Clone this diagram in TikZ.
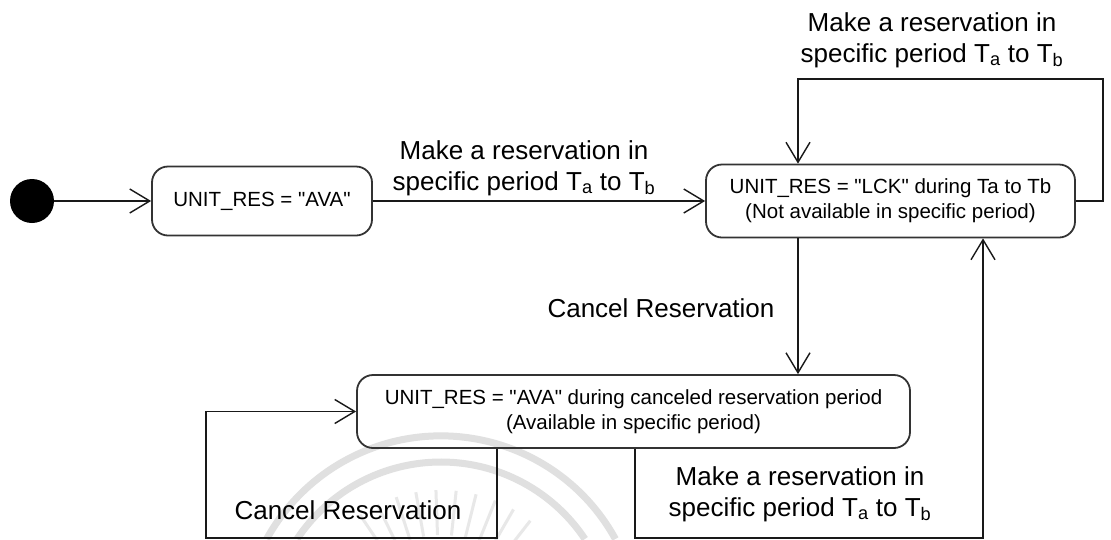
\documentclass[tikz,border=0pt]{standalone}
\usepackage{fontspec}
\setmainfont{Liberation Sans}
\usetikzlibrary{arrows.meta}
\newcommand{\qq}{\textquotedbl}
\begin{document}
\begin{tikzpicture}[x=1pt,y=-1pt,
  state/.style={draw=black!80, line width=1.8pt, rounded corners=16pt, align=center,
    font=\fontsize{20.5}{25}\selectfont, inner sep=0pt},
  trans/.style={draw=black!90, line width=1.4pt,
    -{Straight Barb[length=20pt,width=24pt,line width=1.4pt]}},
  lbl/.style={align=center, font=\fontsize{26}{31}\selectfont, inner sep=0pt},
  sealarc/.style={draw=black!12, line width=7pt}]
\useasboundingbox (0,0) rectangle (1111,539);
\fill[white] (0,0) rectangle (1111,539);

% faint seal in the lower part
\draw[sealarc] (615.4,539) arc[start angle=28.8, end angle=151.2, radius=199pt];
\draw[sealarc] (584.9,539) arc[start angle=33.7, end angle=146.3, radius=173pt];
\foreach \a in {52,60,...,128}
  \draw[draw=black!9, line width=3pt] (441,635) ++(\a:100pt) -- ++(\a:45pt);

% states
\node[circle, fill=black, minimum size=44pt, inner sep=0pt] (init) at (32,201) {};
\node[state, minimum width=220pt, minimum height=69pt] (ava) at (262,201) {UNIT\_RES = \qq AVA\qq};
\node[state, minimum width=369pt, minimum height=73pt] (lck) at (890.5,201)
  {UNIT\_RES = \qq LCK\qq{} during Ta to Tb\\(Not available in specific period)};
\node[state, minimum width=553pt, minimum height=73pt] (ava2) at (633.5,411.5)
  {UNIT\_RES = \qq AVA\qq{} during canceled reservation period\\(Available in specific period)};

% routing points
\coordinate (xa) at (798,79);
\coordinate (loopR) at (1103,79);
\coordinate (bend) at (983,538);
\coordinate (dl) at (497,538);
\coordinate (dr) at (635,538);
\coordinate (farL) at (206,538);

% transitions
\draw[trans] (init) -- (ava);
\draw[trans] (ava) -- (lck);
\draw[trans] (lck.east) -| (loopR) -| (lck.north -| xa);
\draw[trans] (lck.south -| xa) -- (ava2.north -| xa);
\draw[trans] (ava2.south -| dr) -- (dr) -- (bend) -- (lck.south -| bend);
\draw[trans] (ava2.south -| dl) -- (dl) -- (farL) |- (ava2.west);

% transition labels
\node[lbl] (l1) at (524,168) {Make a reservation in\\specific period T\textsubscript{a} to T\textsubscript{b}};
\node[lbl] (l2) at (932,40) {Make a reservation in\\specific period T\textsubscript{a} to T\textsubscript{b}};
\node[lbl] (l3) at (661,308) {Cancel Reservation};
\node[lbl] (l4) at (348,510) {Cancel Reservation};
\node[lbl] (l5) at (800,494) {Make a reservation in\\specific period T\textsubscript{a} to T\textsubscript{b}};
\end{tikzpicture}
\end{document}
